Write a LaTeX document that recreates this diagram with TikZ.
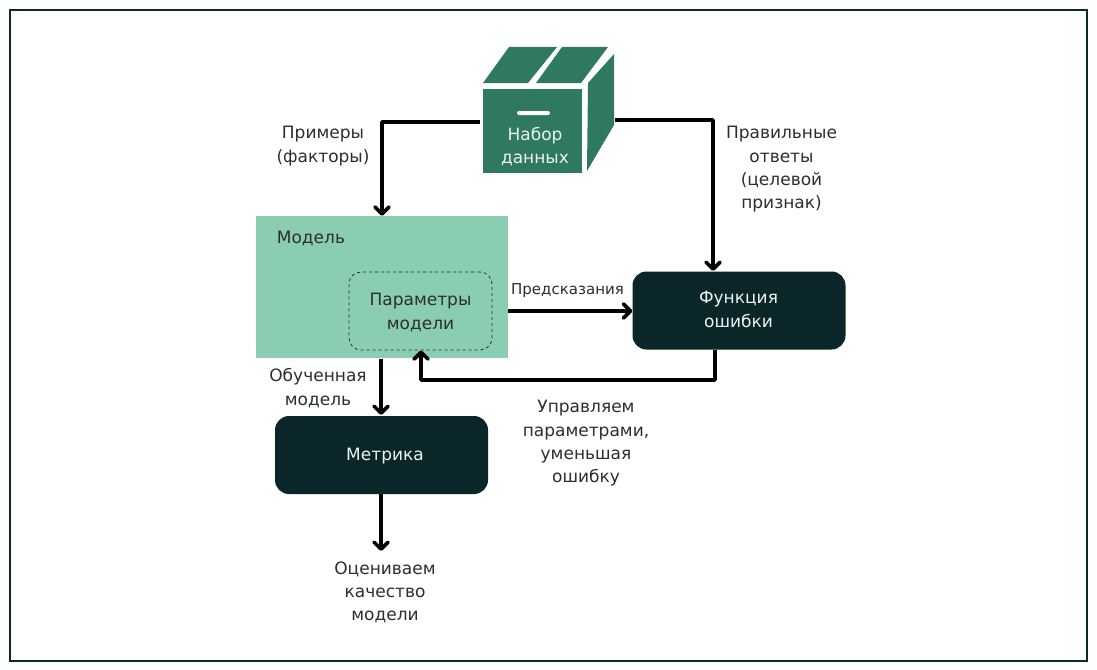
\documentclass[tikz,border=0pt]{standalone}
\usepackage{fontspec}
\setmainfont{DejaVu Sans}
\usetikzlibrary{arrows.meta}
\definecolor{framec}{HTML}{0B2A2C}
\definecolor{darkbox}{HTML}{0A2628}
\definecolor{boxgreen}{HTML}{2F7A5F}
\definecolor{modelgreen}{HTML}{8ACDB0}
\definecolor{txt}{HTML}{2A2F2F}
\definecolor{lighttxt}{HTML}{EDF2F0}
\tikzset{
  x=1pt,y=-1pt,
  lbl/.style={align=center,text=txt,font=\fontsize{17}{23.3}\selectfont,inner sep=0pt},
  darkbox/.style={fill=darkbox,rounded corners=14pt,minimum width=213pt,minimum height=78pt,inner sep=0pt},
  arr/.style={line width=3.6pt,-{Straight Barb[length=7pt,width=14pt,round]},line join=round,black},
  flap/.style={fill=boxgreen,draw=none},
}
\begin{document}
\begin{tikzpicture}
\useasboundingbox (0,0) rectangle (1097,669);
\fill[white] (0,0) rectangle (1097,669);
\draw[framec,line width=2pt] (9.5,10.5) rectangle (1087,660.5);
% dataset box
\fill[flap] (483,83) -- (509,47) -- (557,47) -- (528,83) -- cycle;
\fill[flap] (536,83) -- (562,47) -- (608,47) -- (581,83) -- cycle;
\fill[flap] (588,83) -- (614,54) -- (614,125) -- (587,171) -- cycle;
\node[fill=boxgreen,minimum width=99pt,minimum height=84pt,inner sep=0pt] (dataset) at (532.5,131) {};
\fill[white,rounded corners=2pt] (517,111) rectangle (550,115);
\node[lbl,text=lighttxt] (dataset text) at (535,146.5) {Набор\\данных};
% model
\node[fill=modelgreen,minimum width=252pt,minimum height=142pt,inner sep=0pt] (model) at (382,287) {};
\node[lbl] (model text) at (311,238) {Модель};
\node[draw=txt,dashed,rounded corners=12pt,line width=0.8pt,minimum width=143pt,minimum height=78pt,inner sep=0pt] (params) at (420.5,311) {};
\node[lbl] (params text) at (420.5,312.5) {Параметры\\модели};
% dark boxes
\node[darkbox] (loss) at (739,310.5) {};
\node[lbl,text=lighttxt] (loss text) at (738.5,309.5) {Функция\\ошибки};
\node[darkbox] (metric) at (381.5,455) {};
\node[lbl,text=lighttxt] (metric text) at (385,456.5) {Метрика};
% labels
\node[lbl] (l1) at (323,146) {Примеры\\(факторы)};
\node[lbl] (l2) at (781.5,169.5) {Правильные\\ответы\\(целевой\\признак)};
\node[lbl,font=\fontsize{15}{20}\selectfont] (l3) at (567.5,291) {Предсказания};
\node[lbl] (l4) at (318,388) {Обученная\\модель};
\node[lbl] (l5) at (586,443.5) {Управляем\\параметрами,\\уменьшая\\ошибку};
\node[lbl] (l6) at (385,592.5) {Оцениваем\\качество\\модели};
% connectors
\coordinate (lossin) at (713,271);
\coordinate (lossout) at (715,350);
\coordinate (metricout) at (381,551);
\coordinate (fb) at (421,380);
\draw[arr] ([xshift=-3pt,yshift=9pt]dataset.west) -| (model.north);
\draw[arr] (615,120) -| (lossin);
\draw[arr] ([yshift=-24pt]model.east) -- (loss.west |- 0,311);
\draw[arr] (lossout) |- (fb) -- (params.south -| fb);
\draw[arr] (381,359) -- (381,415);
\draw[arr] (381,494) -- (metricout);
\end{tikzpicture}
\end{document}
